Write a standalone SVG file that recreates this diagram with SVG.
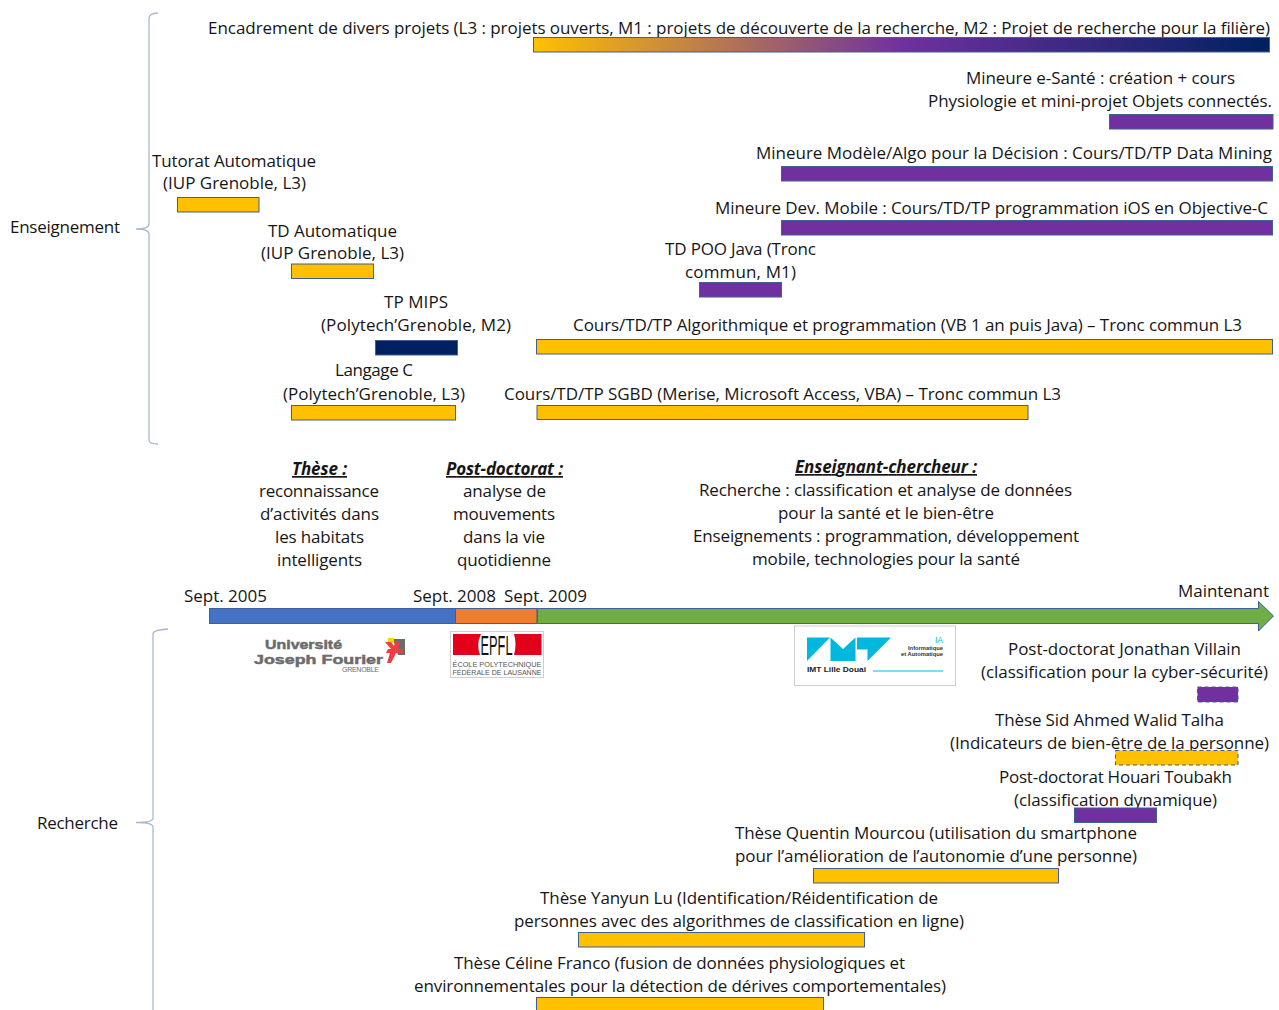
<svg xmlns="http://www.w3.org/2000/svg" width="1279" height="1010" viewBox="0 0 1279 1010">
<style>
text{font-family:"Open Sans","Noto Sans","Liberation Sans",sans-serif;font-size:17px;fill:#161616;text-anchor:middle}
.s{text-anchor:start}
.h{font-weight:700;font-style:italic;text-decoration:underline}
.b{stroke:#3f5f96;stroke-width:1}
.go{fill:#ffc000}.pu{fill:#7030a0}.na{fill:#002060}
.d{stroke-dasharray:4 3}
.br{fill:none;stroke:#a9b8d4;stroke-width:1.3}
.lg{font-family:"Liberation Sans",sans-serif;font-weight:700;fill:#6b6b6b;stroke:#6b6b6b;stroke-width:.5;text-anchor:start}
.ep{font-family:"Liberation Sans",sans-serif;font-size:7px;fill:#555;text-anchor:start}
.im{font-family:"Liberation Sans",sans-serif;font-size:5.500px;font-weight:700;fill:#333;text-anchor:end}
</style>
<defs>
<linearGradient id="g1"><stop offset="0" stop-color="#ffc000"/><stop offset="0.5" stop-color="#7030a0"/><stop offset="1" stop-color="#002060"/></linearGradient>
</defs>
<g id="connectors">
<path class="br" d="M158 13Q149 13.500 149 18L149 224Q149 229 136 229Q149 229 149 234L149 440Q149 444 158 444"/>
<path class="br" d="M168 629Q153 630 153 634L153 818Q153 822.500 136 822.500Q153 822.500 153 827L153 1010"/>
</g>
<g id="enseignement"><text x="65" y="233" textLength="110">Enseignement</text></g>
<g id="recherche"><text x="77.500" y="829" textLength="81">Recherche</text></g>
<g id="encadrement"><text x="739" y="34" textLength="1062">Encadrement de divers projets (L3 : projets ouverts, M1 : projets de découverte de la recherche, M2 : Projet de recherche pour la filière)</text><rect class="b" x="533.500" y="37.500" width="736" height="14.500" fill="url(#g1)"/></g>
<g id="esante"><text x="1100.500" y="84" textLength="269">Mineure e-Santé : création + cours</text><text x="1100" y="107" textLength="344">Physiologie et mini-projet Objets connectés.</text><rect class="b pu" x="1109.500" y="114.500" width="163.500" height="14.500"/></g>
<g id="modele"><text x="1014" y="159" textLength="516">Mineure Modèle/Algo pour la Décision : Cours/TD/TP Data Mining</text><rect class="b pu" x="781.500" y="166.500" width="491" height="14.500"/></g>
<g id="mobile"><text x="991.500" y="214" textLength="553">Mineure Dev. Mobile : Cours/TD/TP programmation iOS en Objective-C</text><rect class="b pu" x="781.500" y="220.500" width="491" height="14.500"/></g>
<g id="poo"><text x="740.500" y="255" textLength="151">TD POO Java (Tronc</text><text x="740.500" y="278" textLength="111">commun, M1)</text><rect class="b pu" x="699.500" y="282.500" width="82" height="14.500"/></g>
<g id="tutorat"><text x="234" y="167" textLength="164">Tutorat Automatique</text><text x="234.500" y="189" textLength="143">(IUP Grenoble, L3)</text><rect class="b go" x="177.500" y="197.500" width="81.500" height="14.500"/></g>
<g id="tdauto"><text x="332.500" y="237" textLength="129">TD Automatique</text><text x="332.500" y="259" textLength="143">(IUP Grenoble, L3)</text><rect class="b go" x="291.500" y="264" width="82" height="14.500"/></g>
<g id="mips"><text x="416" y="308" textLength="64">TP MIPS</text><text x="416" y="331" textLength="190">(Polytech’Grenoble, M2)</text><rect class="b na" x="375.500" y="340.500" width="82" height="14.500"/></g>
<g id="algo"><text x="907.500" y="331" textLength="669">Cours/TD/TP Algorithmique et programmation (VB 1 an puis Java) – Tronc commun L3</text><rect class="b go" x="536.500" y="339.500" width="736" height="14.500"/></g>
<g id="langc"><text x="374" y="376" textLength="78">Langage C</text><text x="374" y="400" textLength="182">(Polytech’Grenoble, L3)</text><rect class="b go" x="291.500" y="405.500" width="164" height="14.500"/></g>
<g id="sgbd"><text x="782.500" y="400" textLength="557">Cours/TD/TP SGBD (Merise, Microsoft Access, VBA) – Tronc commun L3</text><rect class="b go" x="537" y="405.500" width="491" height="14"/></g>
<g id="these"><text class="h" x="319.500" y="475" textLength="55">Thèse :</text><text x="319" y="497" textLength="120">reconnaissance</text><text x="319.500" y="520" textLength="119">d’activités dans</text><text x="319.500" y="543" textLength="89">les habitats</text><text x="319.500" y="566" textLength="85">intelligents</text></g>
<g id="postdoc"><text class="h" x="504.500" y="475" textLength="117">Post-doctorat :</text><text x="504.500" y="497" textLength="83">analyse de</text><text x="504" y="520" textLength="102">mouvements</text><text x="504" y="543" textLength="82">dans la vie</text><text x="504" y="566" textLength="94">quotidienne</text></g>
<g id="ec"><text class="h" x="886" y="473" textLength="182">Enseignant-chercheur :</text><text x="885.500" y="496" textLength="373">Recherche : classification et analyse de données</text><text x="886" y="519" textLength="216">pour la santé et le bien-être</text><text x="886" y="542" textLength="386">Enseignements : programmation, développement</text><text x="886" y="565" textLength="268">mobile, technologies pour la santé</text></g>
<g id="timeline">
<rect class="b" x="209.500" y="608.500" width="246" height="15" fill="#4472c4"/>
<rect class="b" x="455.500" y="608.500" width="81.500" height="15" fill="#ed7d31"/>
<path class="b" d="M537.500 608.500H1258.500V601.500L1273.500 616L1258.500 631V623.500H537.500Z" fill="#70ad47"/>
<text x="225.500" y="602" textLength="83">Sept. 2005</text><text x="454.500" y="602" textLength="83">Sept. 2008</text><text x="545.500" y="602" textLength="83">Sept. 2009</text><text x="1223.500" y="597" textLength="91">Maintenant</text>
</g>
<g id="logo-ujf">
<text class="lg" x="265" y="648.500" style="font-size:13.500px" textLength="77" lengthAdjust="spacingAndGlyphs">Université</text>
<text class="lg" x="254" y="663.500" style="font-size:13.500px" textLength="129" lengthAdjust="spacingAndGlyphs">Joseph Fourier</text>
<text class="lg" x="342" y="672" style="font-size:7px;font-weight:400;stroke:none" textLength="37">GRENOBLE</text>
<path d="M393 639H405V655H398Z" fill="#6b6b6b"/><rect x="388" y="638" width="6" height="5" fill="#ffd400"/>
<path d="M385 642H391L394 646L396 641H400L398 649H404L402 653H396L391 663H387L390 653H386L388 649H391Z" fill="#ef3e42"/>
</g>
<g id="logo-epfl">
<rect x="450.500" y="631.500" width="93" height="46" fill="#fff" stroke="#cfcfcf"/>
<path d="M453 634H481Q476 644 480 655H453ZM514 634H541.500V655H514Q517 644 514 634Z" fill="#e2001a"/>
<text x="496.500" y="654.500" style="font-family:'Liberation Sans',sans-serif;font-size:27px;fill:#111" textLength="32" lengthAdjust="spacingAndGlyphs">EPFL</text>
<text class="ep" x="452.500" y="667" textLength="89" lengthAdjust="spacingAndGlyphs">ÉCOLE POLYTECHNIQUE</text>
<text class="ep" x="452.500" y="675" textLength="89" lengthAdjust="spacingAndGlyphs">FÉDÉRALE DE LAUSANNE</text>
</g>
<g id="logo-imt">
<rect x="794.500" y="626" width="161" height="59.500" fill="#fff" stroke="#cfcfcf"/>
<path d="M807 637.500H830L807 661ZM830.500 661V637.500L843 649L855.500 637.500V661ZM857 637.500H891L867.500 661V649.500H857Z" fill="#00b8de"/>
<text class="s" x="807" y="672" style="font-family:'Liberation Sans',sans-serif;font-size:8px;font-weight:700;fill:#222" textLength="59" lengthAdjust="spacingAndGlyphs">IMT Lille Douai</text>
<text x="943" y="642.500" style="font-family:'Liberation Sans',sans-serif;font-size:8.500px;fill:#00b8de;text-anchor:end">IA</text>
<text class="im" x="943" y="650" textLength="35" lengthAdjust="spacingAndGlyphs">Informatique</text>
<text class="im" x="943" y="656" textLength="42" lengthAdjust="spacingAndGlyphs">et Automatique</text>
<line x1="873" y1="671" x2="943" y2="671" stroke="#00b8de"/>
</g>
<g id="villain"><text x="1124.500" y="655" textLength="233">Post-doctorat Jonathan Villain</text><text x="1124.500" y="678" textLength="287">(classification pour la cyber-sécurité)</text><rect class="b d pu" x="1197.500" y="687" width="40.500" height="15"/></g>
<g id="talha"><text x="1109.500" y="726" textLength="229">Thèse Sid Ahmed Walid Talha</text><text x="1109.500" y="749" textLength="319">(Indicateurs de bien-être de la personne)</text><rect class="b d go" x="1115.500" y="750.500" width="122.500" height="14.500"/></g>
<g id="toubakh"><text x="1115.500" y="783" textLength="233">Post-doctorat Houari Toubakh</text><text x="1115.500" y="806" textLength="203">(classification dynamique)</text><rect class="b pu" x="1074.500" y="808" width="82" height="14.500"/></g>
<g id="mourcou"><text x="936" y="839" textLength="402">Thèse Quentin Mourcou (utilisation du smartphone</text><text x="936" y="862" textLength="402">pour l’amélioration de l’autonomie d’une personne)</text><rect class="b go" x="813.500" y="868.500" width="245" height="14.500"/></g>
<g id="lu"><text x="739" y="904" textLength="398">Thèse Yanyun Lu (Identification/Réidentification de</text><text x="739" y="927" textLength="450">personnes avec des algorithmes de classification en ligne)</text><rect class="b go" x="578.500" y="932.500" width="286" height="14.500"/></g>
<g id="franco"><text x="679.500" y="969" textLength="451">Thèse Céline Franco (fusion de données physiologiques et</text><text x="680" y="992" textLength="532">environnementales pour la détection de dérives comportementales)</text><rect class="b go" x="536.500" y="997.500" width="287" height="14.500"/></g>
</svg>
